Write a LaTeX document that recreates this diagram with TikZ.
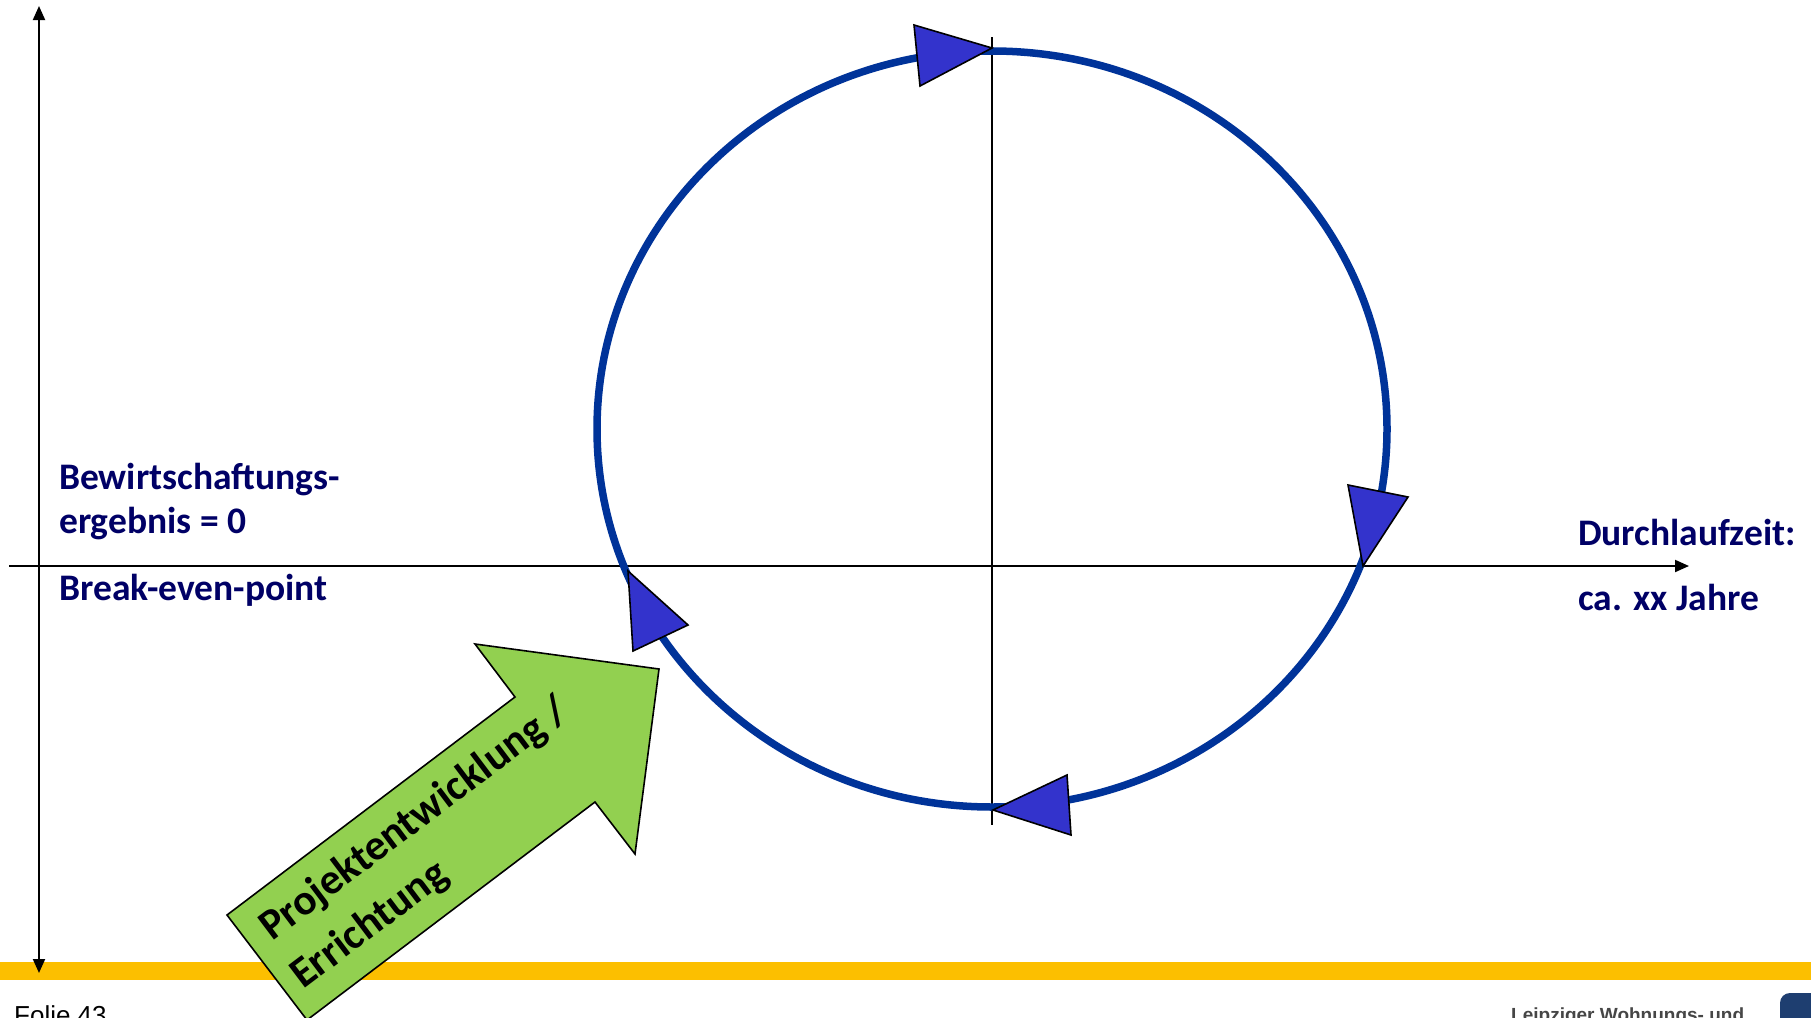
\documentclass[tikz,border=0pt]{standalone}
\usepackage{fontspec}
\setmainfont{Carlito}
\newfontfamily\footfont{Liberation Sans}
\usetikzlibrary{arrows.meta}
\definecolor{ringblue}{RGB}{0,51,153}
\definecolor{triblue}{RGB}{51,51,204}
\definecolor{navytext}{RGB}{0,0,102}
\definecolor{lgreen}{RGB}{146,208,80}
\definecolor{barorange}{RGB}{252,191,0}
\definecolor{logoblue}{RGB}{30,62,112}
\definecolor{footgray}{RGB}{70,70,70}
\begin{document}
\begin{tikzpicture}[x=1pt,y=-1pt,
  axisline/.style={line width=2pt},
  axistip/.style={line width=2pt,-{Triangle[length=14pt,width=12pt]}},
  tri/.style={fill=triblue,draw=black,line width=1.6pt,line join=miter},
  lbl/.style={text=navytext,font=\fontsize{37.5}{44}\selectfont\bfseries,inner sep=0pt,anchor=base west},
  arrowtext/.style={text=black,font=\fontsize{43}{50}\selectfont\bfseries,inner sep=0pt,anchor=base west,rotate=37}]
\useasboundingbox (0,0) rectangle (1811,1017);
\clip (0,0) rectangle (1811,1017);
\fill[white] (0,0) rectangle (1811,1017);

% orange footer bar
\fill[barorange] (0,962) rectangle (1811,980);

% axes
\coordinate (ytop) at (39,6);
\coordinate (ybot) at (39,973);
\coordinate (xl) at (9,566);
\coordinate (xr) at (1689,566);
\coordinate (ctop) at (992,37);
\coordinate (cbot) at (992,825);
\draw[line width=2pt,{Triangle[length=14pt,width=12pt]}-{Triangle[length=14pt,width=12pt]}] (ybot) -- (ytop);
\draw[axistip] (xl) -- (xr);
\draw[axisline] (ctop) -- (cbot);

% cycle ring
\draw[ringblue,line width=7.5pt] (992,429) ellipse [x radius=395,y radius=378];

% direction triangles
\draw[tri] (914,25) -- (920,86) -- (992,48) -- cycle;
\draw[tri] (1348,485) -- (1408,497) -- (1363,566) -- cycle;
\draw[tri] (628,571) -- (688,625) -- (633,651) -- cycle;
\draw[tri] (993,810) -- (1067,775) -- (1071,835) -- cycle;

% green block arrow
\draw[fill=lgreen,draw=black,line width=1.6pt,line join=miter]
  (227,915) -- (515,697) -- (475,644) -- (659,669) -- (635,854) -- (595,802) -- (307,1020) -- cycle;
\node[arrowtext] (pe1) at (272,942) {Projektentwicklung /};
\node[arrowtext] (pe2) at (303,990) {Errichtung};

% labels
\node[lbl] (bw1) at (59,489) {Bewirtschaftungs-};
\node[lbl] (bw2) at (59,533) {ergebnis = 0};
\node[lbl] (bep) at (59,600) {Break-even-point};
\node[lbl] (dz1) at (1578,545) {Durchlaufzeit:};
\node[lbl] (dz2) at (1578,610) {ca. xx Jahre};

% footer
\node[inner sep=0pt,anchor=north west,font=\footfont\fontsize{26}{30}\selectfont] (folie) at (14,1005) {Folie 43};
\node[inner sep=0pt,anchor=north west,text=footgray,font=\footfont\bfseries\fontsize{19}{22}\selectfont] (firm) at (1511,1008) {Leipziger Wohnungs- und};
\fill[logoblue,rounded corners=10pt] (1780,993) rectangle (1840,1060);
\end{tikzpicture}
\end{document}
